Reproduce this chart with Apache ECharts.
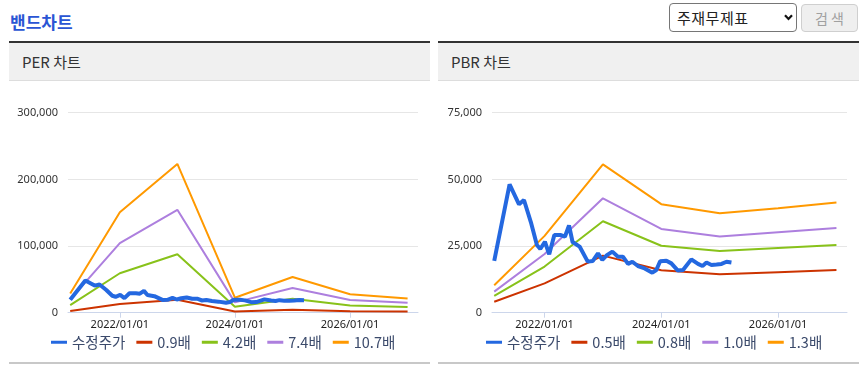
<!DOCTYPE html>
<html><head><meta charset="utf-8">
<script src="https://cdn.jsdelivr.net/npm/echarts@6/dist/echarts.min.js"></script>
<style>
body{margin:0;width:860px;height:373px;position:relative;background:#fff;font-family:"Noto Sans CJK KR","Noto Sans",sans-serif;overflow:hidden}
.title{position:absolute;left:10px;top:10px;font-size:17px;font-weight:bold;color:#2a55d4;line-height:24px;white-space:nowrap}
.sel{position:absolute;left:669px;top:3px;width:119px;height:27px;border:1px solid #767676;border-radius:4px;font-size:15px;color:#222;line-height:27px;padding-left:7px;white-space:nowrap;letter-spacing:0.5px}
.sel svg{position:absolute;left:114px;top:10px}
.btn{position:absolute;left:801px;top:4px;width:55px;height:26px;border:1px solid #cfcfcf;border-radius:4px;background:#efefef;font-size:14px;color:#a0a0a0;line-height:26px;text-align:center;letter-spacing:3px;text-indent:3px;white-space:nowrap}
.panel{position:absolute;top:41px;height:323px}
.phead{height:37px;border-top:2px solid #333;border-bottom:1px solid #ddd;background:#f0f0f0;font-size:15px;color:#333;line-height:37px;padding-left:13px;white-space:nowrap}
.pfoot{position:absolute;left:0;right:0;top:321px;height:2px;background:#c8c8c8}
.chart{position:absolute;left:0;top:40px;width:100%;height:280px}
</style></head>
<body>
<div class="title">밴드차트</div>
<div class="sel">주재무제표<svg width="9" height="7" viewBox="0 0 9 7"><polyline points="1,1.2 4.5,5 8,1.2" fill="none" stroke="#111" stroke-width="2.2"/></svg></div>
<div class="btn">검색</div>
<div class="panel" style="left:9px;width:421px"><div class="phead">PER 차트</div><div class="chart" id="per"></div><div class="pfoot"></div></div>
<div class="panel" style="left:438px;width:421px"><div class="phead">PBR 차트</div><div class="chart" id="pbr"></div><div class="pfoot"></div></div>
<script>
// ---- data ----
const stockDates = ['2021-02-20','2021-05-27','2021-07-25','2021-08-25','2021-10-07','2021-11-14','2021-12-05','2022-01-03','2022-01-30','2022-03-03','2022-04-13','2022-05-08','2022-06-03','2022-06-25','2022-08-08','2022-09-28','2022-10-30','2022-12-01','2022-12-28','2023-01-26','2023-03-01','2023-04-05','2023-05-06','2023-06-07','2023-07-04','2023-08-08','2023-09-19','2023-11-06','2023-12-01','2023-12-25','2024-02-02','2024-03-04','2024-04-14','2024-05-16','2024-07-07','2024-08-18','2024-09-15','2024-10-10','2024-11-10','2024-12-12','2025-01-12','2025-02-12','2025-03-15'];
const stockPrices = [19400,48150,40650,42260,34000,25400,23900,26600,21900,29100,29100,28500,32700,26500,24800,19150,19400,22300,19800,21600,22900,21000,21000,18300,19100,17500,16600,15000,16000,19300,19500,18500,15800,16000,20000,18300,17500,18800,17900,18100,18300,19100,18800];

const bandDates = ['2021-02-20','2022-01-01','2023-01-01','2024-01-01','2025-01-01','2026-01-01','2027-01-01'];

const perNames = ['수정주가','0.9배','4.2배','7.4배','10.7배'];
const perBand09 = [2400,12900,19500,1900,4500,2300,1800];
const perBand42 = [11300,59200,87600,8800,21000,10900,8400];
const perBand74 = [20000,104300,154300,15500,37000,19200,14800];
const perBand107 = [28900,150800,223100,22500,53500,27800,21400];
const perYTicks = [0,100000,200000,300000];

const pbrNames = ['수정주가','0.5배','0.8배','1.0배','1.3배'];
const pbrBand05 = [4125,11000,21400,15900,14400,15200,16000];
const pbrBand08 = [6300,17300,34300,25100,23100,24300,25400];
const pbrBand10 = [7900,22000,42900,31400,28600,30200,31800];
const pbrBand13 = [10300,28800,55600,40700,37300,39200,41300];
const pbrYTicks = [0,25000,50000,75000];

const xTickDates = ['2022-01-01','2024-01-01','2026-01-01'];
const xMin = '2021-02-06', xMax = '2027-03-08';

// ---- build ----
const colors = ['#2468e0','#cc3300','#88c21a','#ad7fde','#ff9900'];
const toTs = d => Date.UTC(+d.slice(0,4), +d.slice(5,7) - 1, +d.slice(8,10));
const pairs = (dates, vals) => dates.map((d, i) => [toTs(d), vals[i]]);
const pad = n => (n < 10 ? '0' : '') + n;

function makeOption(names, bands, yTicks, gridLeft, gridWidth, legendLeft) {
  const series = [{
    name: names[0], type: 'line', data: pairs(stockDates, stockPrices),
    symbol: 'none', showSymbol: false, z: 5,
    lineStyle: { width: 4, color: colors[0] }, itemStyle: { color: colors[0] }
  }];
  bands.forEach((b, i) => series.push({
    name: names[i + 1], type: 'line', data: pairs(bandDates, b),
    symbol: 'none', showSymbol: false, z: 2,
    lineStyle: { width: 2, color: colors[i + 1] }, itemStyle: { color: colors[i + 1] }
  }));
  const tickTs = xTickDates.map(toTs);
  return {
    animation: false,
    grid: { left: gridLeft, top: 31.7, width: gridWidth, height: 200, containLabel: false },
    legend: {
      data: names, left: legendLeft, top: 254, padding: 0, icon: 'rect', itemWidth: 16, itemHeight: 3, itemGap: 11,
      textStyle: { fontSize: 14.5, color: '#3b4a6b', fontFamily: '"Noto Sans CJK KR", sans-serif' }
    },
    xAxis: {
      type: 'value', min: toTs(xMin), max: toTs(xMax), scale: true,
      axisLine: { lineStyle: { color: '#ccd6eb', width: 1 } },
      axisTick: { show: true, length: 5, customValues: tickTs, lineStyle: { color: '#ccd6eb' } },
      axisLabel: {
        customValues: tickTs, fontSize: 11, color: '#222', margin: 7,
        fontFamily: '"Noto Sans", sans-serif',
        formatter: v => { const d = new Date(v); return d.getUTCFullYear() + '/' + pad(d.getUTCMonth() + 1) + '/' + pad(d.getUTCDate()); }
      },
      splitLine: { show: false }
    },
    yAxis: {
      type: 'value', min: yTicks[0], max: yTicks[yTicks.length - 1], interval: yTicks[1] - yTicks[0],
      axisLine: { show: false }, axisTick: { show: false },
      axisLabel: { fontSize: 11, color: '#333', margin: 10, fontFamily: '"Noto Sans", sans-serif',
        formatter: v => v.toLocaleString('en-US') },
      splitLine: { lineStyle: { color: '#e6e6e6', width: 1 } }
    },
    series
  };
}

const perChart = echarts.init(document.getElementById('per'), null, { renderer: 'canvas' });
perChart.setOption(makeOption(perNames, [perBand09, perBand42, perBand74, perBand107], perYTicks, 59, 350, 42));
const pbrChart = echarts.init(document.getElementById('pbr'), null, { renderer: 'canvas' });
pbrChart.setOption(makeOption(pbrNames, [pbrBand05, pbrBand08, pbrBand10, pbrBand13], pbrYTicks, 54, 355, 48));
</script>
</body></html>
